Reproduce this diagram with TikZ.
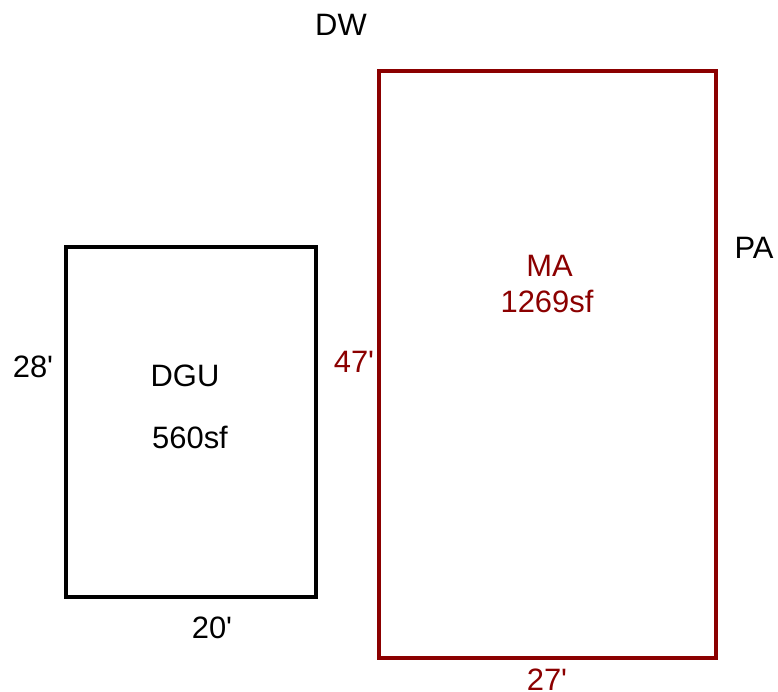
\documentclass[tikz,border=0pt]{standalone}
\usepackage{fontspec}
\newfontfamily\plansans{Liberation Sans}
\definecolor{darkred}{RGB}{139,0,0}
\begin{document}
\begin{tikzpicture}
      [%%%%%%%%%%%%%%%%%%%%%%%%%%%%%%
      x=0.02cm,y=-0.02cm,
      room/.style={rectangle,draw=black,line width=2pt,inner sep=0pt},
      lbl/.style={anchor=base,inner sep=0pt,font=\plansans\fontsize{17.6}{21}\selectfont},
      ]%%%%%%%%%%%%%%%%%%%%%%%%%%%%%%
      \useasboundingbox (0,0) rectangle (778,692);

      % detached garage unit
      \node[room,minimum width=5cm,minimum height=7cm] (dgu) at (191,422){};
      \node[lbl] (dgulbl) at (185,386.5){DGU};
      \node[lbl] (dgusf) at (190,448.5){560sf};
      \node[lbl] (dguh) at (33,377.5){28'};
      \node[lbl] (dguw) at (212,638.5){20'};

      % main area
      \node[room,draw=darkred,minimum width=6.74cm,minimum height=11.74cm] (ma) at (547.5,364.5){};
      \node[lbl,text=darkred] (malbl) at (549.5,277){MA};
      \node[lbl,text=darkred] (masf) at (547,313){1269sf};
      \node[lbl,text=darkred] (mah) at (354,372.5){47'};
      \node[lbl,text=darkred] (maw) at (547,690){27'};

      \node[lbl] (dw) at (341,36){DW};
      \node[lbl] (pa) at (754,258.5){PA};
      % \node[lbl] at (0,0){};
    \end{tikzpicture}
\end{document}
